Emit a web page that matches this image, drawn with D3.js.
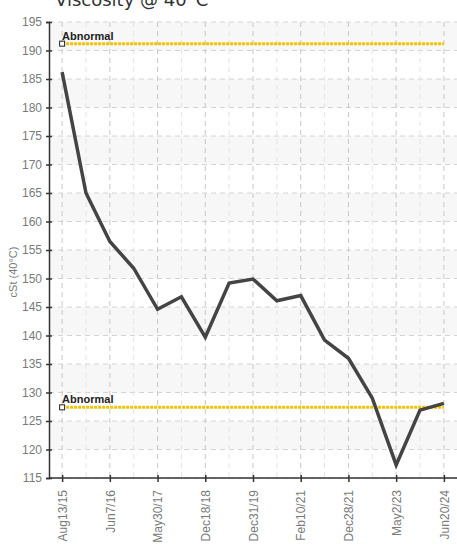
<!DOCTYPE html>
<html>
<head>
<meta charset="utf-8">
<script src="https://cdn.jsdelivr.net/npm/d3@7/dist/d3.min.js"></script>
<style>
  html, body { margin: 0; padding: 0; background: #fff; }
  svg { display: block; }
</style>
</head>
<body>
<svg id="chart" width="457" height="549"></svg>
<script>
// ---- data ----
const title = "Viscosity @ 40°C";
const yLabel = "cSt (40°C)";
const xLabels = ["Aug13/15", "", "Jun7/16", "", "May30/17", "", "Dec18/18", "", "Dec31/19", "", "Feb10/21", "", "Dec28/21", "", "May2/23", "", "Jun20/24"];
const values = [186.2, 165.0, 156.5, 151.8, 144.6, 146.8, 139.7, 149.2, 149.9, 146.1, 147.0, 139.2, 136.0, 129.0, 117.3, 126.9, 128.1];
const yTicks = [115, 120, 125, 130, 135, 140, 145, 150, 155, 160, 165, 170, 175, 180, 185, 190, 195];
const abnormalLimits = [191.2, 127.4];
const abnormalLabel = "Abnormal";

// ---- layout ----
const svg = d3.select("#chart");
const pL = 49, pR = 457, pT = 22, pB = 478;

const x = d3.scaleLinear().domain([-0.55, values.length - 1 + 0.55]).range([pL, pR]);
const y = d3.scaleLinear().domain([115, 195]).range([pB, pT]);
const idx = d3.range(values.length);

// background bands
const bands = yTicks.slice(0, -1).filter(v => ((195 - (v + 5)) / 5) % 2 === 0);
svg.append("g").selectAll("rect").data(bands).join("rect")
  .attr("x", pL).attr("width", pR - pL)
  .attr("y", d => y(d + 5)).attr("height", d => y(d) - y(d + 5))
  .attr("fill", "#f7f7f7");

// horizontal grid
svg.append("g").selectAll("line").data(yTicks).join("line")
  .attr("x1", pL).attr("x2", pR)
  .attr("y1", d => y(d)).attr("y2", d => y(d))
  .attr("stroke", "#d4d4d4").attr("stroke-width", 1)
  .attr("stroke-dasharray", "5,4");

// vertical grid
svg.append("g").selectAll("line").data(idx).join("line")
  .attr("x1", d => x(d)).attr("x2", d => x(d))
  .attr("y1", pT).attr("y2", pB)
  .attr("stroke", d => xLabels[d] ? "#c8c8c8" : "#e4e4e4").attr("stroke-width", 1)
  .attr("stroke-dasharray", "5,4");

// abnormal limit lines
const lim = svg.append("g");
abnormalLimits.forEach(v => {
  lim.append("line")
    .attr("x1", x(0)).attr("x2", x(values.length - 1))
    .attr("y1", y(v)).attr("y2", y(v))
    .attr("stroke", "#f2c200").attr("stroke-width", 3)
    .attr("stroke-dasharray", "3,1");
  lim.append("rect")
    .attr("x", x(0) - 2.5).attr("y", y(v) - 2.5)
    .attr("width", 5).attr("height", 5)
    .attr("fill", "#fff").attr("stroke", "#222").attr("stroke-width", 1);
  lim.append("text")
    .attr("x", x(0)).attr("y", y(v) - 4)
    .attr("font-family", "'Liberation Sans', Arial, sans-serif")
    .attr("font-size", 11).attr("font-weight", "bold")
    .attr("fill", "#222")
    .text(abnormalLabel);
});

// data line
svg.append("path")
  .datum(idx)
  .attr("fill", "none")
  .attr("stroke", "#444")
  .attr("stroke-width", 3.5)
  .attr("stroke-linejoin", "miter")
  .attr("d", d3.line().x(d => x(d)).y(d => y(values[d])));

// y axis
const yAxis = svg.append("g").attr("transform", `translate(${pL},0)`)
  .call(d3.axisLeft(y).tickValues(yTicks).tickSize(3).tickPadding(4).tickFormat(d3.format("d")));
yAxis.select(".domain").attr("stroke", "#333").attr("stroke-width", 1.5);
yAxis.selectAll(".tick line").attr("stroke", "#333").attr("x2", 3).attr("x1", -3).attr("stroke-width", 1.5);
yAxis.selectAll(".tick text")
  .attr("font-family", "'Liberation Sans', Arial, sans-serif")
  .attr("font-size", 12).attr("fill", "#7a7a7a");

// x axis
const xAxis = svg.append("g").attr("transform", `translate(0,${pB})`)
  .call(d3.axisBottom(x).tickValues(idx.filter(i => xLabels[i])).tickSize(3).tickFormat(i => xLabels[i]));
xAxis.select(".domain").attr("stroke", "#333").attr("stroke-width", 1.5).attr("d", `M${pL},0H${pR}`);
xAxis.selectAll(".tick line").attr("stroke", "#333").attr("y1", -3).attr("y2", 4).attr("stroke-width", 1.5);
xAxis.selectAll(".tick text")
  .attr("font-family", "'Liberation Sans', Arial, sans-serif")
  .attr("font-size", 12).attr("fill", "#7a7a7a")
  .attr("text-anchor", "end")
  .attr("transform", "rotate(-90)")
  .attr("x", -12).attr("y", 0).attr("dy", "0.35em");

// y label
svg.append("text")
  .attr("transform", `translate(13,${(pT + pB) / 2 + 22}) rotate(-90)`)
  .attr("text-anchor", "middle")
  .attr("dy", "0.35em")
  .attr("font-family", "'Liberation Sans', Arial, sans-serif")
  .attr("font-size", 11).attr("fill", "#7a7a7a")
  .text(yLabel);

// title
svg.append("text")
  .attr("x", 55).attr("y", 6)
  .attr("font-family", "'DejaVu Sans', Verdana, sans-serif")
  .attr("font-size", 18).attr("fill", "#333")
  .text(title);
</script>
</body>
</html>
